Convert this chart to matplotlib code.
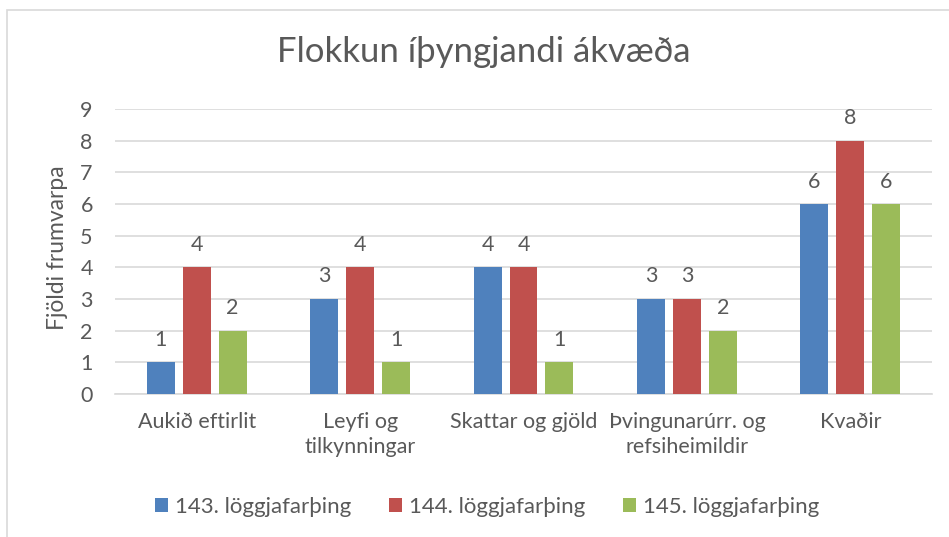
import numpy as np
import matplotlib.pyplot as plt
from matplotlib.patches import Rectangle

plt.rcParams['font.family'] = ['Lato', 'DejaVu Sans']

categories = ['Aukið eftirlit', 'Leyfi og\ntilkynningar', 'Skattar og gjöld',
              'Þvingunarúrr. og\nrefsiheimildir', 'Kvaðir']
series_names = ['143. löggjafarþing', '144. löggjafarþing', '145. löggjafarþing']
s143 = [1, 3, 4, 3, 6]
s144 = [4, 4, 4, 3, 8]
s145 = [2, 1, 1, 2, 6]
colors = ['#4F81BD', '#C0504D', '#9BBB59']
txt = '#595959'

fig = plt.figure(figsize=(9.49, 5.37), dpi=100)
ax = fig.add_axes([115 / 949, 143 / 537, 817 / 949, 285 / 537])

x = np.arange(len(categories))
w = 0.171
step = 0.22
for i, (vals, name, c) in enumerate(zip([s143, s144, s145], series_names, colors)):
    pos = x + (i - 1) * step
    bars = ax.bar(pos, vals, width=w, color=c, label=name, zorder=3)
    for b, v in zip(bars, vals):
        ax.annotate(str(v), (b.get_x() + b.get_width() / 2, v), xytext=(0, 9),
                    textcoords='offset points', ha='center', va='bottom',
                    fontsize=15.5, color=txt)

ax.set_xlim(-0.5, len(categories) - 0.5)
ax.set_ylim(0, 9)
ax.set_yticks(range(10))
ax.set_xticks(x)
ax.set_xticklabels(categories, linespacing=1.3)
ax.grid(axis='y', color='#D9D9D9', lw=1.2, zorder=0)
for s in ['top', 'right', 'left']:
    ax.spines[s].set_visible(False)
ax.spines['bottom'].set_color('#D9D9D9')
ax.spines['bottom'].set_linewidth(1.2)
ax.tick_params(length=0, labelsize=15.5, labelcolor=txt)
ax.tick_params(axis='x', pad=13)
ax.tick_params(axis='y', pad=16)

# y-axis title placed directly in figure coords
fig.text(57 / 949, 1 - 248 / 537, 'Fjöldi frumvarpa', rotation=90, ha='center', va='center',
         fontsize=16.5, color=txt)

fig.text(484 / 949, 1 - 52 / 537, 'Flokkun íþyngjandi ákvæða', ha='center', va='center',
         fontsize=25, color=txt)

ax.legend(loc='center', bbox_to_anchor=(487 / 949, 1 - 507 / 537), bbox_transform=fig.transFigure,
          ncol=3, frameon=False, fontsize=16, labelcolor=txt, handlelength=0.6, handleheight=0.6,
          handletextpad=0.3, columnspacing=1.7)

fig.patches.append(Rectangle((7 / 949, -0.1), 1.2, 1 - 10 / 537 + 0.1, transform=fig.transFigure,
                             fill=False, edgecolor='#D9D9D9', lw=1.2))

fig.savefig('out.png', dpi=100)
